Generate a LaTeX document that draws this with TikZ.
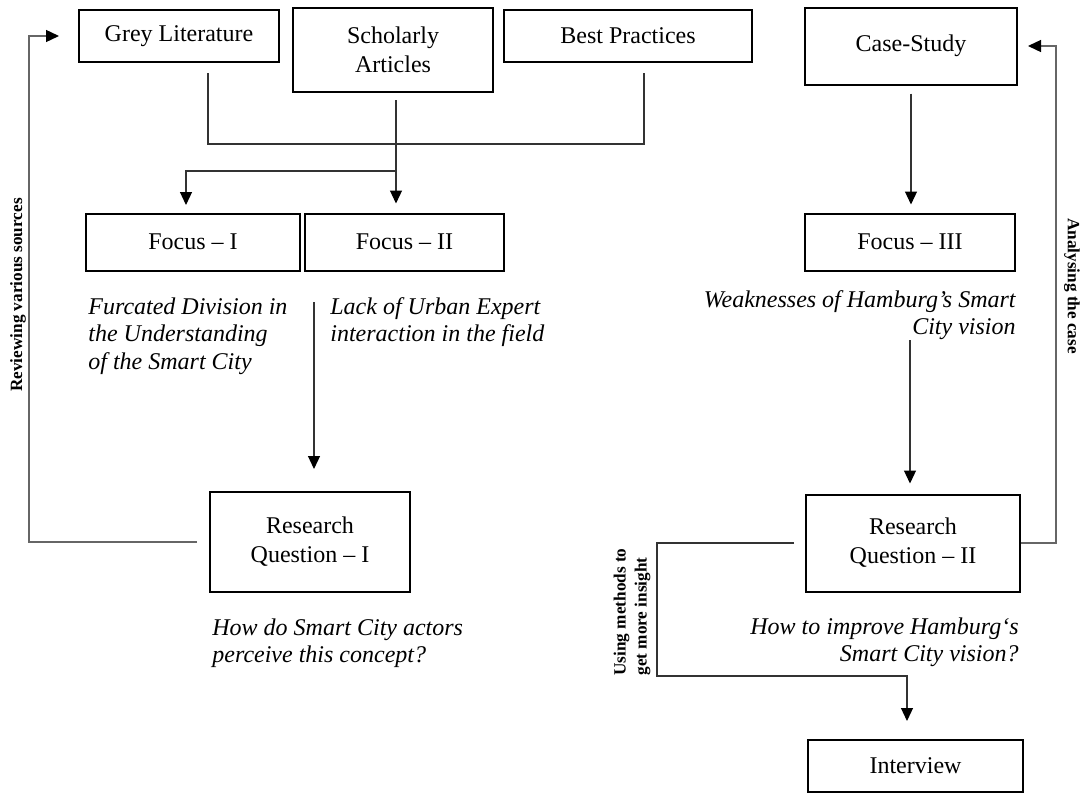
\documentclass[tikz,border=0pt]{standalone}
\usepackage{fontspec}
\setmainfont{Liberation Serif}
\usetikzlibrary{arrows.meta}

\begin{document}
\begin{tikzpicture}[yscale=-1, x=.5pt, y=.5pt,
    box/.style={draw, line width=1pt, align=center, inner sep=0pt, font=\fontsize{12}{14.5}\selectfont},
    note/.style={inner sep=0pt, font=\fontsize{12}{13.75}\selectfont\itshape},
    side/.style={inner sep=0pt, font=\fontsize{8.6}{10.5}\selectfont\bfseries},
    link/.style={draw=black!80, line width=.6pt},
    fb/.style={draw=black!60, line width=.7pt, -{Triangle[length=6.5pt, width=6pt, color=black, fill=black]}},
    arr/.style={link, -{Triangle[length=6.5pt, width=6pt, color=black, fill=black]}}]
        \useasboundingbox (0, 0) rectangle (1088, 793);
        \draw
        (179, 36) node[box, minimum width=100pt, minimum height=26pt] (grey) {Grey Literature}
        (393, 50) node[box, minimum width=100pt, minimum height=42pt] (schol) {Scholarly\\Articles}
        (628, 36) node[box, minimum width=124pt, minimum height=26pt] (best) {Best Practices}
        (911, 46) node[box, minimum width=106pt, minimum height=38.5pt] (case) {Case-Study}
        (193, 242) node[box, minimum width=107pt, minimum height=28.5pt] (foc1) {Focus – I}
        (404.5, 242) node[box, minimum width=99.5pt, minimum height=28.5pt] (foc2) {Focus – II}
        (910, 242) node[box, minimum width=105pt, minimum height=28.5pt] (foc3) {Focus – III}
        (310, 542) node[box, minimum width=100pt, minimum height=50pt] (rq1) {Research\\Question – I}
        (913, 543) node[box, minimum width=107pt, minimum height=48.5pt] (rq2) {Research\\Question – II}
        (915.5, 766) node[box, minimum width=107.5pt, minimum height=26pt] (intv) {Interview}
        ;
        \draw
        (88, 297) node[note, anchor=north west, align=left] (n1) {Furcated Division in\\the Understanding\\of the Smart City}
        (330, 297) node[note, anchor=north west, align=left] (n2) {Lack of Urban Expert\\interaction in the field}
        (212, 618) node[note, anchor=north west, align=left] (n4) {How do Smart City actors\\perceive this concept?}
        (1016, 290) node[note, anchor=north east, align=right] (n3) {Weaknesses of Hamburg’s Smart\\City vision}
        (1019, 617) node[note, anchor=north east, align=right] (n5) {How to improve Hamburg‘s\\Smart City vision?}
        (18, 295) node[side, rotate=90] (rev) {Reviewing various sources}
        (1072, 286) node[side, rotate=-90] (ana) {Analysing the case}
        (632, 612) node[side, rotate=90, align=left] (use) {Using methods to\\get more insight}
        ;
        \draw
        (208, 73) coordinate (gl) (644, 73) coordinate (bp) (208, 144) coordinate (jn)
        (396, 100) coordinate (sa) (396, 171) coordinate (fk) (186, 205) coordinate (t1)
        (314, 302) coordinate (d2) (910, 340) coordinate (d3) (907, 676) coordinate (ij)
        ;
        \draw[link] (gl) -- (jn) -| (bp);
        \draw[arr, shorten >=4.5pt] (sa) -- (sa |- foc2.north);
        \draw[arr] (fk) -| (t1);
        \draw[arr, shorten >=11pt] (d2) -- (d2 |- rq1.north);
        \draw[arr, shorten <=4pt, shorten >=4pt] (case.south) -- (case.south |- foc3.north);
        \draw[arr, shorten >=5pt] (d3) -- (d3 |- rq2.north);
        \draw[fb, shorten <=6pt, shorten >=9.5pt] (rq1.west) -- ++(-180, 0) |- (grey.west);
        \draw[fb, shorten >=5pt] (rq2.east) -- ++(35, 0) |- (case.east);
        \draw[arr, shorten <=5.5pt, shorten >=9pt] (rq2.west) -- ++(-148, 0) |- (ij) -- (ij |- intv.north);
      \end{tikzpicture}
\end{document}
